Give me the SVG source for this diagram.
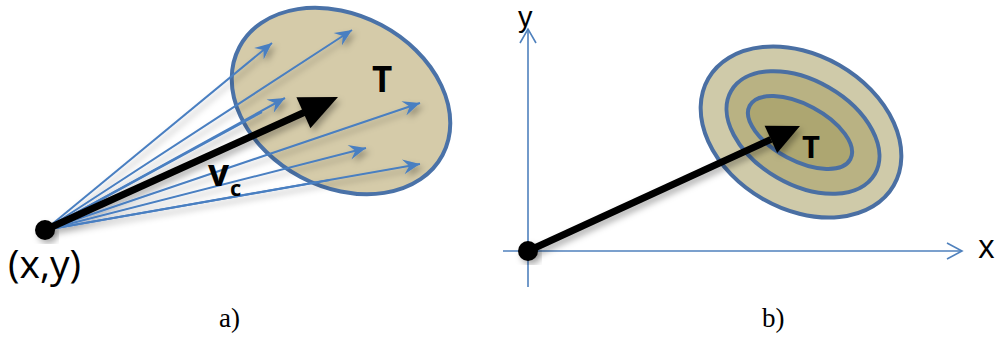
<svg xmlns="http://www.w3.org/2000/svg" width="999" height="340" viewBox="0 0 999 340">
<style>
.blue{stroke:#4a7fc1;stroke-width:2;fill:none}
.ax{stroke:#4f81bd;stroke-width:1.6;fill:none}
.blk{stroke:#000;stroke-width:7;fill:none}
.ring{stroke:#4a6fa3;stroke-width:4}
.sans{font-family:"Open Sans","Liberation Sans",sans-serif}
.serif{font-family:"Liberation Serif","DejaVu Serif",serif;font-size:27px}
</style>
<defs>
<marker id="bh" markerUnits="userSpaceOnUse" markerWidth="24" markerHeight="20" viewBox="-20 -10 24 20" refX="0" refY="0" orient="auto">
<path d="M0,0 L-17,-7.5 L-11,0 L-17,7.5 Z" fill="#4a7fc1"/>
</marker>
<filter id="sh" x="-20%" y="-20%" width="140%" height="140%">
<feDropShadow dx="3" dy="4" stdDeviation="3" flood-color="#000" flood-opacity="0.3"/>
</filter>
</defs>

<g id="left-target">
<ellipse cx="341" cy="101" rx="115" ry="86" transform="rotate(28 341 101)" fill="#d5cba9" stroke="#4a72a8" stroke-width="4"/>
<text x="372" y="92" class="sans" font-size="35" font-weight="bold">T</text>
</g>

<g id="connectors">
<g filter="url(#sh)">
<line class="blue" x1="45" y1="230" x2="272" y2="43" marker-end="url(#bh)"/>
<line class="blue" x1="45" y1="230" x2="352" y2="30" marker-end="url(#bh)"/>
<line class="blue" x1="45" y1="230" x2="285" y2="98" marker-end="url(#bh)"/>
<line class="blue" x1="45" y1="230" x2="262" y2="112"/>
<line class="blue" x1="45" y1="230" x2="420" y2="103" marker-end="url(#bh)"/>
<line class="blue" x1="45" y1="230" x2="366" y2="148" marker-end="url(#bh)"/>
<line class="blue" x1="45" y1="230" x2="330" y2="180"/>
<line class="blue" x1="45" y1="230" x2="420" y2="164" marker-end="url(#bh)"/>
<line class="blk" x1="45" y1="230" x2="304" y2="112.5"/>
<polygon points="338,97 296.4,97.2 310.4,128.2" fill="#000"/>
</g>
</g>

<g id="left-origin">
<circle cx="45" cy="230" r="10" fill="#000" filter="url(#sh)"/>
<text x="8" y="278" class="sans" font-size="39">(x,y)</text>
</g>
<g id="vc-label">
<text x="208" y="186" class="sans" font-size="37" font-weight="bold">v</text>
<text x="230" y="196" class="sans" font-size="22" font-weight="bold">c</text>
</g>

<g id="axes">
<line class="ax" x1="528" y1="287" x2="528" y2="29"/>
<polyline class="ax" points="520,43 528,29 536,43"/>
<line class="ax" x1="503" y1="251" x2="962" y2="251"/>
<polyline class="ax" points="947,243 962,251 947,259"/>
<text x="518" y="27" font-family="Liberation Sans, Arial, sans-serif" font-size="29">y</text>
<text x="978" y="258" class="sans" font-size="32">x</text>
</g>

<g id="right-target">
<ellipse cx="801" cy="132" rx="107" ry="77" transform="rotate(30 801 132)" fill="#cfcaa9" class="ring"/>
<ellipse cx="803" cy="132.5" rx="83" ry="52" transform="rotate(30 803 132.5)" fill="#b9b283" class="ring"/>
<ellipse cx="800" cy="132.5" rx="57" ry="28" transform="rotate(28 800 132.5)" fill="#ada671" class="ring"/>
<text x="802" y="158" class="sans" font-size="31" font-weight="bold">T</text>
</g>

<g id="right-connector" filter="url(#sh)">
<line class="blk" x1="528" y1="251" x2="771" y2="139.4"/>
<polygon points="800,126 764.6,125.8 777.2,153" fill="#000"/>
</g>

<g id="right-origin">
<circle cx="528" cy="251" r="10" fill="#000" filter="url(#sh)"/>
</g>

<text x="219" y="327" class="serif">a)</text>
<text x="762" y="327" class="serif">b)</text>
</svg>
